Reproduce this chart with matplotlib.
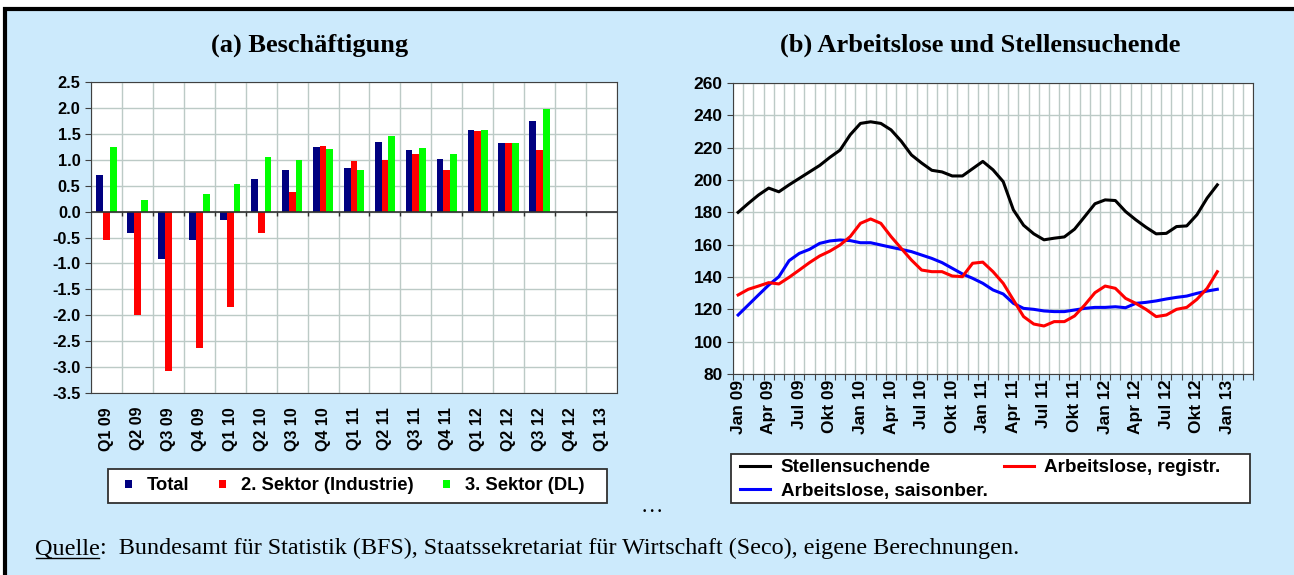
import numpy as np
import matplotlib.pyplot as plt
from matplotlib.patches import Rectangle

# (a) Beschaeftigung, quarterly change in %
quarters = ['Q1 09', 'Q2 09', 'Q3 09', 'Q4 09', 'Q1 10', 'Q2 10', 'Q3 10', 'Q4 10',
            'Q1 11', 'Q2 11', 'Q3 11', 'Q4 11', 'Q1 12', 'Q2 12', 'Q3 12', 'Q4 12', 'Q1 13']
total = [0.71, -0.42, -0.92, -0.54, -0.16, 0.63, 0.81, 1.24, 0.84, 1.34, 1.18, 1.01,
         1.57, 1.32, 1.75, np.nan, np.nan]
sektor2 = [-0.55, -2.00, -3.08, -2.63, -1.84, -0.42, 0.37, 1.27, 0.98, 1.00, 1.11, 0.81,
           1.55, 1.32, 1.18, np.nan, np.nan]
sektor3 = [1.24, 0.23, 0.0, 0.34, 0.53, 1.06, 1.00, 1.21, 0.81, 1.45, 1.22, 1.11,
           1.57, 1.32, 1.98, np.nan, np.nan]

# (b) Arbeitslose und Stellensuchende, monthly Jan 09 - Dez 12 (in 1000)
month_labels = ['Jan 09', 'Apr 09', 'Jul 09', 'Okt 09', 'Jan 10', 'Apr 10', 'Jul 10', 'Okt 10',
                'Jan 11', 'Apr 11', 'Jul 11', 'Okt 11', 'Jan 12', 'Apr 12', 'Jul 12', 'Okt 12', 'Jan 13']
n_months = 51  # Jan 09 .. Mar 13 on the axis
stellensuchende = [180.0, 185.5, 190.7, 195.0, 192.7, 197.0, 201.0, 205.0, 209.0, 214.0, 218.5, 228.0,
                   235.0, 236.0, 235.0, 231.0, 224.0, 215.5, 210.5, 206.0, 205.0, 202.5, 202.5, 207.0,
                   211.5, 206.3, 199.0, 181.5, 172.0, 166.7, 163.0, 164.0, 164.8, 169.6, 177.4, 185.3,
                   187.7, 187.3, 180.5, 175.4, 170.8, 166.7, 167.0, 171.2, 171.6, 178.5, 188.8, 197.0]
registriert = [128.9, 132.4, 134.4, 136.5, 135.7, 139.8, 144.3, 148.9, 153.0, 156.0, 159.8, 165.0,
               173.2, 175.9, 173.2, 165.0, 157.7, 150.5, 144.3, 143.3, 143.3, 140.6, 140.2, 148.5,
               149.2, 143.3, 136.1, 125.8, 115.5, 110.9, 109.7, 112.4, 112.4, 115.9, 122.7, 130.3,
               134.4, 133.0, 126.8, 123.7, 120.0, 115.5, 116.5, 120.0, 121.2, 126.2, 133.0, 143.3]
saisonber = [116.5, 122.7, 128.9, 135.0, 140.2, 150.1, 154.6, 157.1, 160.8, 162.3, 162.9, 162.5,
             161.2, 161.2, 159.8, 158.4, 157.1, 155.7, 153.6, 151.5, 148.9, 145.4, 141.9, 139.2,
             136.1, 132.0, 129.5, 123.7, 120.6, 120.0, 119.0, 118.6, 118.6, 119.6, 120.6, 121.2,
             121.2, 121.6, 121.0, 123.7, 124.3, 125.2, 126.4, 127.4, 128.2, 129.9, 131.3, 132.4]

BG = '#cceafc'
GRID = '#bccac6'
SANS = ['Liberation Sans', 'DejaVu Sans']
SERIF = ['Liberation Serif', 'DejaVu Serif']

plt.rcParams['font.family'] = SANS
plt.rcParams['font.weight'] = 'bold'

W, H = 1294, 575
fig = plt.figure(figsize=(W / 100, H / 100), dpi=100, facecolor='white')

# light blue frame with black border
fig.patches.append(Rectangle((5 / W, -0.05), 1.1, 1 - 9 / H + 0.05, transform=fig.transFigure,
                             facecolor=BG, edgecolor='black', linewidth=3, zorder=-10))

def px(x0, y0, x1, y1):
    return [x0 / W, 1 - y1 / H, (x1 - x0) / W, (y1 - y0) / H]

def legend_box(x0, y0, x1, y1):
    l, b, w, h = px(x0, y0, x1, y1)
    fig.patches.append(Rectangle((l, b), w, h, transform=fig.transFigure, facecolor='white',
                                 edgecolor='#303030', linewidth=1.3, zorder=-5))

# ---------- (a) ----------
ax1 = fig.add_axes(px(91, 82, 617, 393))
x = np.arange(len(quarters))
bw = 0.22
ax1.bar(x - bw, total, bw, color='#000080', label='Total', zorder=3)
ax1.bar(x, sektor2, bw, color='#ff0000', label='2. Sektor (Industrie)', zorder=3)
ax1.bar(x + bw, sektor3, bw, color='#00ff00', label='3. Sektor (DL)', zorder=3)
ax1.set_xlim(-0.5, len(quarters) - 0.5)
ax1.set_ylim(-3.5, 2.5)
ax1.set_yticks(np.arange(-3.5, 2.51, 0.5))
ax1.set_yticklabels([f'{v:.1f}' for v in np.arange(-3.5, 2.51, 0.5)], fontsize=11.8)
ax1.set_xticks(np.arange(-0.5, len(quarters), 1.0))
ax1.set_xticklabels([])
ax1.tick_params(axis='x', length=0)
ax1.set_xticks(x, minor=True)
ax1.set_xticklabels(quarters, minor=True, rotation=90, fontsize=11.5)
ax1.tick_params(axis='x', which='minor', length=0, pad=10)
ax1.tick_params(axis='y', length=4, color='#404040')
ax1.grid(True, which='major', color=GRID, linewidth=1, zorder=0)
ax1.axhline(0, color='#303030', linewidth=1.2, zorder=4)
ax1.vlines(np.arange(0.5, len(quarters) - 0.5), -0.08, 0, color='#303030', linewidth=1, zorder=4)
for s in ax1.spines.values():
    s.set_color('#404040')
legend_box(108, 469, 607, 503)
ax1.legend(loc='center left', bbox_to_anchor=(125 / W, 1 - 486 / H),
           bbox_transform=fig.transFigure, ncol=3, fontsize=13.2, frameon=False,
           borderpad=0, borderaxespad=0, handlelength=0.4, handleheight=0.24,
           handletextpad=0.8, columnspacing=1.6)

# ---------- (b) ----------
ax2 = fig.add_axes(px(733, 83, 1253, 374))
m = np.arange(len(stellensuchende))
ax2.plot(m, stellensuchende, color='black', linewidth=2.2, label='Stellensuchende', zorder=3)
ax2.plot(m, saisonber, color='#0000ff', linewidth=2.2, label='Arbeitslose, saisonber.', zorder=3)
ax2.plot(m, registriert, color='#ff0000', linewidth=2.2, label='Arbeitslose, registr.', zorder=3)
ax2.set_xlim(-0.5, n_months - 0.5)
ax2.set_ylim(80, 260)
ax2.set_yticks(np.arange(80, 261, 20))
ax2.tick_params(axis='y', labelsize=12.5, length=4, color='#404040')
ax2.set_xticks(np.arange(-0.5, n_months, 1.0))
ax2.set_xticklabels([])
ax2.tick_params(axis='x', length=4, color='#404040')
ax2.set_xticks(np.arange(0, n_months, 3), minor=True)
ax2.set_xticklabels(month_labels, minor=True, rotation=90, fontsize=12.5)
ax2.tick_params(axis='x', which='minor', length=0, pad=4)
ax2.grid(True, which='major', color=GRID, linewidth=1, zorder=0)
for s in ax2.spines.values():
    s.set_color('#404040')
legend_box(731, 454, 1250, 503)
ax2.legend(loc='upper left', bbox_to_anchor=(740 / W, 1 - 459 / H),
           bbox_transform=fig.transFigure, ncol=2, fontsize=13.6, frameon=False,
           borderpad=0, borderaxespad=0, handlelength=1.6, handletextpad=0.55,
           columnspacing=0.85, labelspacing=0.33)

# titles
fig.text(310 / W, 1 - 45 / H, '(a) Beschäftigung', family=SERIF, fontsize=19,
         fontweight='bold', ha='center', va='center')
fig.text(980 / W, 1 - 45 / H, '(b) Arbeitslose und Stellensuchende', family=SERIF, fontsize=19,
         fontweight='bold', ha='center', va='center')

fig.text(652 / W, 1 - 508 / H, '…', family=SERIF, fontsize=16, fontweight='normal',
         ha='center', va='center')

# footer with underlined "Quelle"
r = fig.canvas.get_renderer()
q = fig.text(35 / W, 1 - 554 / H, 'Quelle', family=SERIF, fontsize=17.4, fontweight='normal',
             va='baseline')
bb = q.get_window_extent(r)
fig.add_artist(plt.Line2D([(bb.x0 + 1) / W, (bb.x1 - 1) / W], [(bb.y0 + 1) / H] * 2,
                          color='black', linewidth=1))
fig.text(bb.x1 / W, 1 - 554 / H,
         ':  Bundesamt für Statistik (BFS), Staatssekretariat für Wirtschaft (Seco), eigene Berechnungen.',
         family=SERIF, fontsize=17.4, fontweight='normal', va='baseline')

fig.savefig('out.png', dpi=100, facecolor='white')
